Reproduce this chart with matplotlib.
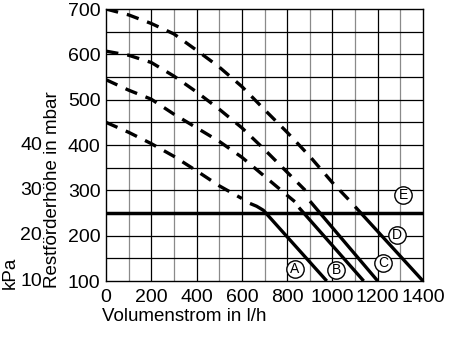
import matplotlib
matplotlib.use("Agg")
import matplotlib.pyplot as plt

plt.rcParams['font.family'] = ['Liberation Sans', 'DejaVu Sans']
plt.rcParams['lines.scale_dashes'] = False

# ---- data (flow l/h, residual head mbar) ----
A_dash_x = [0, 100, 200, 300, 400, 500, 600]
A_dash_y = [450, 428, 403, 375, 343, 310, 282]
A_solid_x = [636, 665, 695, 975]
A_solid_y = [271, 265, 256, 100]

B_dash_x = [0, 100, 200, 300, 400, 500, 600, 700, 800, 834]
B_dash_y = [544, 521, 501, 468, 438, 408, 373, 331, 289, 275]
B_solid_x = [852, 1138]
B_solid_y = [262, 100]

C_dash_x = [0, 100, 200, 300, 400, 500, 600, 700, 800, 880]
C_dash_y = [607, 598, 582, 552, 517, 479, 438, 390, 340, 300]
C_solid_x = [901, 1200]
C_solid_y = [276, 100]

D_dash_x = [0, 100, 200, 300, 400, 500, 600, 700, 800, 900, 1000, 1090]
D_dash_y = [700, 687, 668, 645, 609, 572, 529, 478, 428, 375, 317, 270]
D_solid_x = [1100, 1400]
D_solid_y = [264, 100]

E_level = 250

curve_labels = ['A', 'B', 'C', 'D', 'E']

x_ticks = [0, 200, 400, 600, 800, 1000, 1200, 1400]
y_ticks = [100, 200, 300, 400, 500, 600, 700]
kpa_ticks = [10, 20, 30, 40]

W, H = 449, 337
fig = plt.figure(figsize=(W / 100, H / 100), dpi=100)
L, R, T, B = 106, 423, 9, 281
ax = fig.add_axes([L / W, 1 - B / H, (R - L) / W, (B - T) / H])
ax.set_xlim(0, 1400)
ax.set_ylim(100, 700)

# grid
for gx in range(100, 1400, 100):
    ax.axvline(gx, color='black' if gx % 200 == 0 else '#8a8a8a', lw=0.9, zorder=1)
for gy in range(150, 700, 50):
    ax.axhline(gy, color='black', lw=0.9, zorder=1)

# curves
lw = 2.4
dash = (9.0, 6.5)
for dx, dy, sx, sy in [(A_dash_x, A_dash_y, A_solid_x, A_solid_y),
                       (B_dash_x, B_dash_y, B_solid_x, B_solid_y),
                       (C_dash_x, C_dash_y, C_solid_x, C_solid_y),
                       (D_dash_x, D_dash_y, D_solid_x, D_solid_y)]:
    ax.plot(dx, dy, color='black', lw=lw, dashes=dash, zorder=3)
    ax.plot(sx, sy, color='black', lw=lw, solid_capstyle='butt', zorder=3)

ax.axhline(E_level, color='black', lw=2.5, zorder=3)

# circled labels
label_pos = {'A': (834, 126), 'B': (1016, 124), 'C': (1225, 139),
             'D': (1284, 201), 'E': (1313, 290)}
for lab in curve_labels:
    px, py = label_pos[lab]
    ax.plot([px], [py], 'o', ms=12.5, mfc='white', mec='black', mew=1.0, zorder=5)
    ax.text(px, py, lab, ha='center', va='center', fontsize=10, zorder=6)

# ticks
ax.set_xticks(x_ticks)
ax.set_xticklabels([str(v) for v in x_ticks])
ax.set_yticks(y_ticks)
ax.set_yticklabels([str(v) for v in y_ticks])
ax.tick_params(axis='both', length=0, labelsize=14)
ax.tick_params(axis='x', pad=5.5)
ax.tick_params(axis='y', pad=4.0)
for s in ax.spines.values():
    s.set_linewidth(1.0)
    s.set_zorder(4)

# kPa scale
for v in kpa_ticks:
    ax.annotate(str(v), xy=(0, v * 10), xycoords=('axes fraction', 'data'),
                xytext=(-46, 0), textcoords='offset points',
                ha='right', va='center', fontsize=14)

fig.text(53 / W, 1 - 288 / H, 'Restförderhöhe in mbar', rotation=90,
         ha='center', va='bottom', fontsize=13.5)
fig.text(10 / W, 1 - 289 / H, 'kPa', rotation=90,
         ha='center', va='bottom', fontsize=13.5)
fig.text(102 / W, 1 - 308 / H, 'Volumenstrom in l/h', ha='left', va='top', fontsize=13.5)

fig.savefig('out.png', dpi=100)
